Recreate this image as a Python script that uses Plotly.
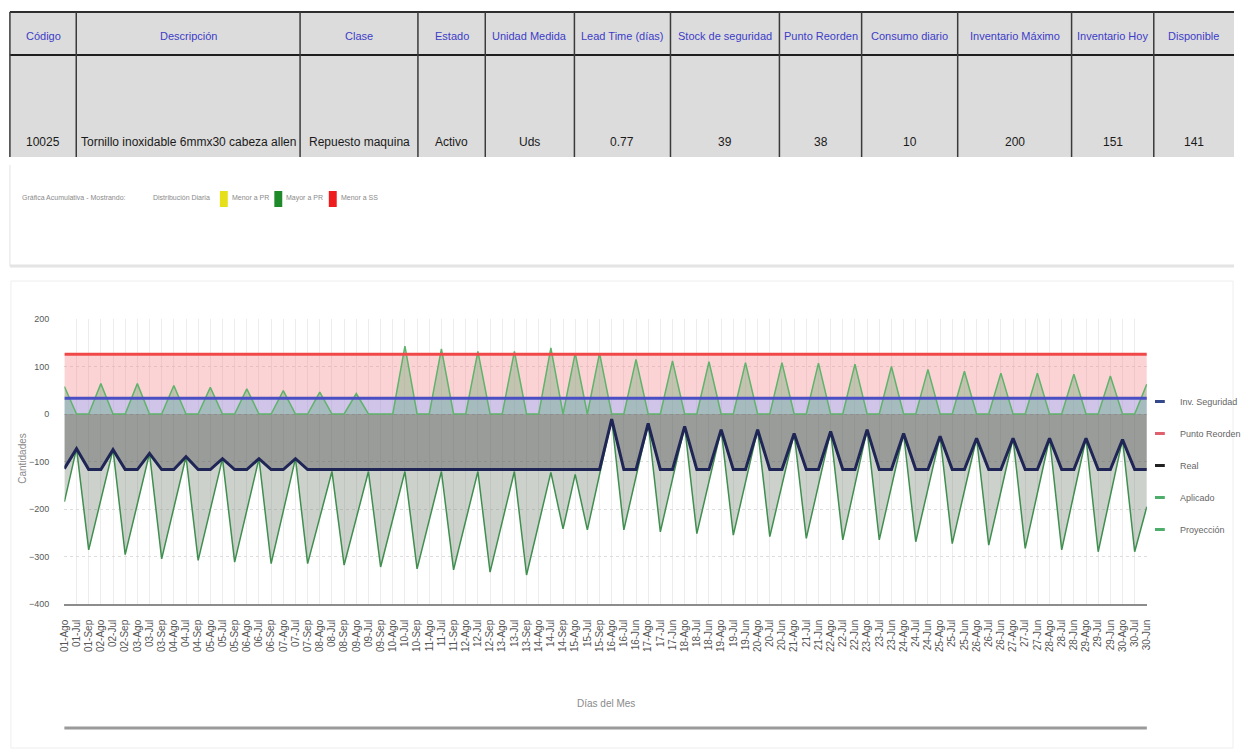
import plotly.graph_objects as go

W, H = 1246, 754

# ---------------- item sheet ----------------
encabezados = ["Código", "Descripción", "Clase", "Estado", "Unidad Medida", "Lead Time (días)",
               "Stock de seguridad", "Punto Reorden", "Consumo diario", "Inventario Máximo",
               "Inventario Hoy", "Disponible"]
valores = ["10025", "Tornillo inoxidable 6mmx30 cabeza allen", "Repuesto maquina", "Activo", "Uds",
           "0.77", "39", "38", "10", "200", "151", "141"]

# ---------------- daily series ----------------
meses_a = ["Ago", "Jul", "Sep"]
meses_b = ["Ago", "Jul", "Jun"]
dias = [f"{d:02d}-{m}" for d in range(1, 16) for m in meses_a] + \
       [f"{d:02d}-{m}" for d in range(16, 31) for m in meses_b]

inv_seguridad_nivel = 33
punto_reorden_nivel = 126

real = [-115, -73, -117, -117, -75, -117, -117, -83, -117, -117,
        -90, -117, -117, -94, -117, -117, -94, -117, -117, -94,
        -117, -117, -117, -117, -117, -117, -117, -117, -117, -117,
        -117, -117, -117, -117, -117, -117, -117, -117, -117, -117,
        -117, -117, -117, -117, -117, -11, -117, -117, -20, -117,
        -117, -26, -117, -117, -33, -117, -117, -33, -117, -117,
        -41, -117, -117, -37, -117, -117, -33, -117, -117, -41,
        -117, -117, -47, -117, -117, -51, -117, -117, -51, -117,
        -117, -51, -117, -117, -51, -117, -117, -54, -117, -117]

proyeccion = [-185, -73, -286, -180, -75, -296, -190, -83, -305, -197,
              -90, -308, -201, -94, -312, -203, -94, -315, -205, -94,
              -315, -218, -121, -318, -220, -121, -322, -222, -121, -326,
              -224, -121, -328, -225, -121, -333, -227, -121, -339, -230,
              -123, -242, -127, -244, -127, -11, -244, -132, -20, -248,
              -137, -26, -252, -143, -33, -255, -144, -33, -258, -150,
              -41, -262, -152, -37, -265, -149, -33, -265, -153, -41,
              -269, -158, -47, -273, -162, -51, -276, -164, -51, -283,
              -167, -51, -286, -168, -51, -290, -172, -54, -290, -195]

aplicado = [58, 0, 0, 64, 0, 0, 64, 0, 0, 60,
            0, 0, 56, 0, 0, 53, 0, 0, 49, 0,
            0, 46, 0, 0, 43, 0, 0, 0, 143, 0,
            0, 137, 0, 0, 132, 0, 0, 132, 0, 0,
            139, 0, 128, 0, 128, 0, 0, 115, 0, 0,
            112, 0, 0, 110, 0, 0, 108, 0, 0, 108,
            0, 0, 107, 0, 0, 105, 0, 0, 100, 0,
            0, 94, 0, 0, 90, 0, 0, 86, 0, 0,
            86, 0, 0, 84, 0, 0, 80, 0, 0, 63]

inv_seguridad = [inv_seguridad_nivel] * len(dias)
punto_reorden = [punto_reorden_nivel] * len(dias)

# ---------------- helpers (pixel -> paper) ----------------
def px(x):
    return x / W


def py(y):
    return 1 - y / H


FONT = "Liberation Sans, Arial, sans-serif"

fig = go.Figure()

# area fills (drawn first)
fig.add_trace(go.Scatter(x=dias, y=inv_seguridad, mode="lines", line=dict(width=0),
                         fill="tozeroy", fillcolor="rgba(170,150,215,0.55)",
                         showlegend=False, hoverinfo="skip"))
fig.add_trace(go.Scatter(x=dias, y=punto_reorden, mode="lines", line=dict(width=0),
                         fill="tonexty", fillcolor="rgba(248,140,145,0.38)",
                         showlegend=False, hoverinfo="skip"))
fig.add_trace(go.Scatter(x=dias, y=proyeccion, mode="lines", line=dict(width=0),
                         fill="tozeroy", fillcolor="rgba(120,135,120,0.38)",
                         showlegend=False, hoverinfo="skip"))
fig.add_trace(go.Scatter(x=dias, y=real, mode="lines", line=dict(width=0),
                         fill="tozeroy", fillcolor="rgba(70,70,70,0.38)",
                         showlegend=False, hoverinfo="skip"))
fig.add_trace(go.Scatter(x=dias, y=aplicado, mode="lines", line=dict(width=1.5, color="#5fb36a"),
                         fill="tozeroy", fillcolor="rgba(90,170,110,0.35)",
                         showlegend=False))

# lines on top
fig.add_trace(go.Scatter(x=dias, y=proyeccion, mode="lines",
                         line=dict(width=1.5, color="#3f8f4f"), showlegend=False))
fig.add_trace(go.Scatter(x=dias, y=real, mode="lines",
                         line=dict(width=3, color="#1f2555"), showlegend=False))
fig.add_trace(go.Scatter(x=dias, y=inv_seguridad, mode="lines",
                         line=dict(width=3, color="#4b4fc4"), showlegend=False))
fig.add_trace(go.Scatter(x=dias, y=punto_reorden, mode="lines",
                         line=dict(width=3, color="#f04848"), showlegend=False))

# legend entries (short dash keys)
leyenda = [("Inv. Seguridad", "#34488c"), ("Punto Reorden", "#e0606e"),
           ("Real", "#222222"), ("Aplicado", "#4cae6a"), ("Proyección", "#4cae6a")]
for nombre, color in leyenda:
    fig.add_trace(go.Scatter(x=[None], y=[None], mode="markers", name=nombre,
                             legendgroup=nombre,
                             marker=dict(symbol="line-ew-open", size=7, color=color,
                                         line=dict(width=3, color=color))))

shapes = []
annotations = []

# ---------------- item sheet drawing ----------------
bordes = [10, 77, 303, 422, 490, 580, 677, 787, 870, 967, 1082, 1165, 1246]
TOP, MID, BOT = 12, 55, 157
shapes.append(dict(type="rect", xref="paper", yref="paper", x0=px(10), x1=px(1246),
                   y0=py(BOT), y1=py(TOP), fillcolor="#dcdcdc", line=dict(width=0), layer="below"))
shapes.append(dict(type="line", xref="paper", yref="paper", x0=px(10), x1=px(1246),
                   y0=py(TOP), y1=py(TOP), line=dict(color="#2e2e2e", width=2)))
shapes.append(dict(type="line", xref="paper", yref="paper", x0=px(10), x1=px(1246),
                   y0=py(MID), y1=py(MID), line=dict(color="#1e1e1e", width=2)))
for xb in bordes[:-1]:
    shapes.append(dict(type="line", xref="paper", yref="paper", x0=px(xb), x1=px(xb),
                       y0=py(BOT), y1=py(TOP), line=dict(color="#3a3a3a", width=1.5)))
for i, (enc, val) in enumerate(zip(encabezados, valores)):
    xc = (bordes[i] + bordes[i + 1]) / 2
    annotations.append(dict(xref="paper", yref="paper", x=px(xc), y=py(36), text=enc,
                            showarrow=False, xanchor="center", yanchor="middle",
                            font=dict(family=FONT, size=11, color="#3c3cc8")))
    annotations.append(dict(xref="paper", yref="paper", x=px(xc), y=py(142), text=val,
                            showarrow=False, xanchor="center", yanchor="middle",
                            font=dict(family=FONT, size=12, color="#1a1a1a")))

# ---------------- key strip ----------------
gris_txt = "#8a8a8a"
annotations.append(dict(xref="paper", yref="paper", x=px(20), y=py(198),
                        text="Gráfica Acumulativa - Mostrando:", showarrow=False,
                        xanchor="left", yanchor="middle", font=dict(family=FONT, size=7, color=gris_txt)))
annotations.append(dict(xref="paper", yref="paper", x=px(152), y=py(198),
                        text="Distribución Diaria", showarrow=False,
                        xanchor="left", yanchor="middle", font=dict(family=FONT, size=7, color=gris_txt)))
claves = [(222, "#e5e01a", "Menor a PR"), (277, "#1f8a2a", "Mayor a PR"), (332, "#ee1c1c", "Menor a SS")]
for x0, color, texto in claves:
    shapes.append(dict(type="rect", xref="paper", yref="paper", x0=px(x0), x1=px(x0 + 8),
                       y0=py(207), y1=py(191), fillcolor=color, line=dict(width=0)))
    annotations.append(dict(xref="paper", yref="paper", x=px(x0 + 10), y=py(198), text=texto,
                            showarrow=False, xanchor="left", yanchor="middle",
                            font=dict(family=FONT, size=7, color=gris_txt)))

# separators and panel
shapes.append(dict(type="line", xref="paper", yref="paper", x0=px(10), x1=px(10),
                   y0=py(266), y1=py(165), line=dict(color="#ececec", width=1.5)))
shapes.append(dict(type="line", xref="paper", yref="paper", x0=px(10), x1=px(1246),
                   y0=py(266), y1=py(266), line=dict(color="#e4e4e4", width=3)))
shapes.append(dict(type="rect", xref="paper", yref="paper", x0=px(11), x1=px(1245),
                   y0=py(748), y1=py(281), line=dict(color="#eeeeee", width=1)))
shapes.append(dict(type="line", xref="paper", yref="paper", x0=px(65), x1=px(1158),
                   y0=py(728), y1=py(728), line=dict(color="#9a9a9a", width=3)))

# axis titles
annotations.append(dict(xref="paper", yref="paper", x=px(22), y=py(458), text="Cantidades",
                        textangle=-90, showarrow=False, xanchor="center", yanchor="middle",
                        font=dict(family=FONT, size=10, color="#8a8a8a")))
annotations.append(dict(xref="paper", yref="paper", x=px(612), y=py(703), text="Días del Mes",
                        showarrow=False, xanchor="center", yanchor="middle",
                        font=dict(family=FONT, size=10, color="#8a8a8a")))

fig.update_layout(
    width=W, height=H,
    margin=dict(l=0, r=0, t=0, b=0),
    paper_bgcolor="white", plot_bgcolor="white",
    shapes=shapes, annotations=annotations,
    showlegend=True,
    legend=dict(x=px(1151), y=py(387), xanchor="left", yanchor="top",
                bgcolor="rgba(0,0,0,0)", tracegroupgap=13,
                font=dict(family=FONT, size=9, color="#666666")),
    xaxis=dict(domain=[px(65), px(1158)], type="category",
               categoryorder="array", categoryarray=dias,
               range=[0, len(dias) - 1], automargin=False,
               tickmode="array", tickvals=dias, ticktext=dias, tickangle=-90,
               ticklabelstandoff=10,
               tickfont=dict(family=FONT, size=10, color="#555555"),
               showgrid=True, gridcolor="#ececec", gridwidth=1,
               showline=True, linecolor="#8c8c8c", linewidth=1.5,
               ticks="", zeroline=False),
    yaxis=dict(domain=[py(604), py(319)], range=[-400, 200], dtick=100, tick0=0,
               automargin=False, showgrid=True, gridcolor="#dddddd", griddash="dot",
               zeroline=False, ticks="", showline=False, ticklabelstandoff=14,
               tickfont=dict(family=FONT, size=9, color="#595959")),
    font=dict(family=FONT),
)

fig.write_html("out.html")
